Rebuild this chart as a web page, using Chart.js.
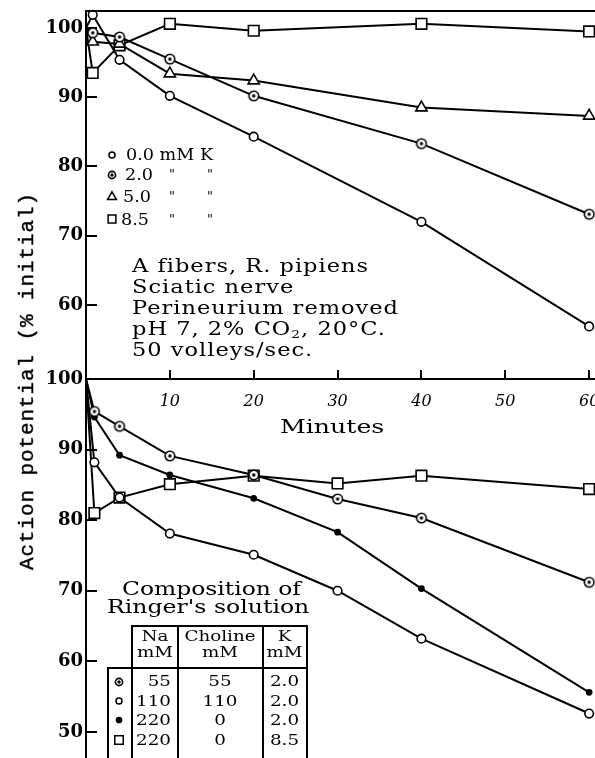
<!DOCTYPE html>
<html>
<head>
<meta charset="utf-8">
<script src="https://cdn.jsdelivr.net/npm/chart.js@4.4.0/dist/chart.umd.min.js"></script>
<style>
  body { margin: 0; background: #fff; }
  #wrap { position: relative; width: 595px; height: 758px; overflow: hidden; background: #fff;
          font-family: "DejaVu Serif", serif; color: #000; }
  #wrap canvas { position: absolute; left: 0; }
  .t { position: absolute; white-space: nowrap; line-height: 20px; transform-origin: 0 50%; }
  .c { position: absolute; white-space: nowrap; text-align: center; transform: scaleX(1.22); }
  .ln { position: absolute; background: #000; }
  sub { font-size: 11px; line-height: 0; vertical-align: -3px; }
</style>
</head>
<body>
<div id="wrap">
  <canvas id="topChart" width="595" height="440" style="top:0"></canvas>
  <canvas id="botChart" width="595" height="388" style="top:370px"></canvas>

  <div class="t" id="ylab" style="left:28px; top:381px; font-family:'Liberation Mono', monospace; font-size:21px;
       letter-spacing:0.9px; -webkit-text-stroke:0.4px #000; transform-origin:50% 50%;
       transform: translate(-50%,-50%) rotate(-90deg);">Action potential (% initial)</div>

  <div class="t" style="left:280px; top:417px; font-size:18px; transform: scaleX(1.4);">Minutes</div>

  <!-- top panel legend -->
  <div class="t" style="left:126px; top:145px; font-size:16px; transform: scaleX(1.1);">0.0 mM K</div>
  <div class="t" style="left:125px; top:165px; font-size:16px; transform: scaleX(1.1);">2.0</div>
  <div class="t" style="left:123px; top:187px; font-size:16px; transform: scaleX(1.1);">5.0</div>
  <div class="t" style="left:121px; top:210px; font-size:16px; transform: scaleX(1.1);">8.5</div>
  <div class="t" style="left:169px; top:165px; font-size:13px;">"</div>
  <div class="t" style="left:207px; top:165px; font-size:13px;">"</div>
  <div class="t" style="left:169px; top:187px; font-size:13px;">"</div>
  <div class="t" style="left:207px; top:187px; font-size:13px;">"</div>
  <div class="t" style="left:169px; top:210px; font-size:13px;">"</div>
  <div class="t" style="left:207px; top:210px; font-size:13px;">"</div>

  <div class="t" style="left:132px; top:255px; font-size:18px; letter-spacing:0.8px; line-height:21px;
       transform-origin: 0 0; transform: scaleX(1.25);">
    A fibers, R. pipiens<br>Sciatic nerve<br>Perineurium removed<br>pH 7, 2% CO<sub>2</sub>, 20°C.<br>50 volleys/sec.
  </div>

  <!-- bottom panel composition table -->
  <div class="t" style="left:122px; top:579px; font-size:18px; transform: scaleX(1.3);">Composition of</div>
  <div class="t" style="left:107px; top:597px; font-size:18px; transform: scaleX(1.31);">Ringer's solution</div>

  <div class="ln" style="left:131px; top:625px; width:177px; height:1.5px;"></div>
  <div class="ln" style="left:107px; top:667px; width:201px; height:1.5px;"></div>
  <div class="ln" style="left:107px; top:667px; width:1.5px; height:100px;"></div>
  <div class="ln" style="left:131px; top:625px; width:1.5px; height:140px;"></div>
  <div class="ln" style="left:177px; top:625px; width:1.5px; height:140px;"></div>
  <div class="ln" style="left:262px; top:625px; width:1.5px; height:140px;"></div>
  <div class="ln" style="left:306px; top:625px; width:1.5px; height:140px;"></div>

  <div class="c" style="left:133px; width:44px; top:628px; font-size:15px; line-height:16px;">Na<br>mM</div>
  <div class="c" style="left:178px; width:84px; top:628px; font-size:15px; line-height:16px;">Choline<br>mM</div>
  <div class="c" style="left:263px; width:43px; top:628px; font-size:15px; line-height:16px;">K<br>mM</div>

  <div class="c" style="left:131px; width:40px; text-align:right; transform-origin:100% 50%; top:672px; font-size:15px; line-height:19.5px;">55<br>110<br>220<br>220</div>
  <div class="c" style="left:178px; width:84px; top:672px; font-size:15px; line-height:19.5px;">55<br>110<br>0<br>0</div>
  <div class="c" style="left:263px; width:43px; top:672px; font-size:15px; line-height:19.5px;">2.0<br>2.0<br>2.0<br>8.5</div>
</div>

<script>
// ---- data ----
// upper panel: K concentration series
const minutesTop = [0, 0.8, 4, 10, 20, 40, 60];
const k00 = [100, 101.9, 95.4, 90.2, 84.3, 72.0, 56.9];
const k20 = [100, 99.3, 98.7, 95.5, 90.2, 83.3, 73.1];
const k50 = [100, 98.0, 97.7, 93.4, 92.4, 88.5, 87.3];
const k85 = [100, 93.5, 97.5, 100.6, 99.6, 100.6, 99.5];

// lower panel: Ringer's composition series
const minutesBot = [0, 1, 4, 10, 20, 30, 40, 60];
const na55 = [100, 95.4, 93.3, 89.1, 86.4, 83.0, 80.3, 71.2];
const na110 = [100, 88.2, 83.2, 78.1, 75.1, 70.0, 63.2, 52.6];
const na220 = [100, 94.6, 89.2, 86.4, 83.1, 78.3, 70.3, 55.6];
const na220k85 = [100, 81.0, 83.2, 85.1, 86.3, 85.2, 86.3, 84.4];

const xTicks = [10, 20, 30, 40, 50, 60];
const yTicksTop = [60, 70, 80, 90, 100];
const yTicksBot = [50, 60, 70, 80, 90, 100];

// circle with a dot in the middle
function ringDot(r) {
  const c = document.createElement('canvas');
  const s = Math.ceil(2 * r + 4);
  c.width = c.height = s;
  const g = c.getContext('2d');
  g.beginPath(); g.arc(s / 2, s / 2, r, 0, Math.PI * 2);
  g.fillStyle = '#fff'; g.fill();
  g.lineWidth = 1.6; g.strokeStyle = '#000'; g.stroke();
  g.beginPath(); g.arc(s / 2, s / 2, 1.7, 0, Math.PI * 2);
  g.fillStyle = '#000'; g.fill();
  return c;
}

const styles = {
  open: { pointStyle: 'circle', pointRadius: 4.3, pointBackgroundColor: '#fff' },
  dot: { pointStyle: ringDot(4.8), pointRadius: 5, pointBackgroundColor: '#fff' },
  tri: { pointStyle: 'triangle', pointRadius: 6.5, pointBackgroundColor: '#fff' },
  sq: { pointStyle: 'rect', pointRadius: 7.5, pointBackgroundColor: '#fff' },
  fill: { pointStyle: 'circle', pointRadius: 2.6, pointBackgroundColor: '#000' }
};

function series(xs, ys, st) {
  const r = st.pointRadius;
  return Object.assign({}, st, {
    data: xs.map((x, i) => ({ x: x, y: ys[i] })),
    borderColor: '#000',
    borderWidth: 2,
    pointBorderColor: '#000',
    pointBorderWidth: 1.6,
    pointRadius: ctx => ctx.dataIndex === 0 ? 0 : r,
    pointHoverRadius: ctx => ctx.dataIndex === 0 ? 0 : r,
    tension: 0,
    clip: false
  });
}

function mark(ctx, st, x, y, r) {
  ctx.save();
  ctx.lineWidth = 1.5;
  ctx.strokeStyle = '#000';
  ctx.fillStyle = st === 'fill' ? '#000' : '#fff';
  if (st === 'dot') {
    const img = ringDot(r);
    ctx.drawImage(img, x - img.width / 2, y - img.height / 2);
  } else {
    const ps = { open: 'circle', tri: 'triangle', sq: 'rect', fill: 'circle' }[st];
    Chart.helpers.drawPoint(ctx, { pointStyle: ps, radius: r, rotation: 0, borderWidth: 1.5 }, x, y);
  }
  ctx.restore();
}

const black = '#000';
const tickFont = { family: 'DejaVu Serif', size: 18, weight: 'bold' };

// keep the plot area exactly where layout padding and afterFit put it
function fixSize(prop, size) {
  return s => {
    s[prop] = size;
    s.paddingTop = 0; s.paddingBottom = 0; s.paddingLeft = 0; s.paddingRight = 0;
  };
}

// y axis with tick marks pointing into the plot (negative tick length)
function yAxis(min, max, values) {
  return {
    min: min, max: max,
    afterBuildTicks: s => { s.ticks = values.map(v => ({ value: v })); },
    afterFit: fixSize('width', 86),
    ticks: { color: black, padding: 14, font: tickFont },
    grid: { drawOnChartArea: false, drawTicks: true, tickLength: -11, color: black, lineWidth: 2 },
    border: { color: black, width: 2 }
  };
}

// top frame line, legend symbols
const topExtras = {
  id: 'topExtras',
  afterDraw(chart) {
    const { ctx, chartArea: a } = chart;
    ctx.save();
    ctx.strokeStyle = black; ctx.lineWidth = 2;
    ctx.beginPath(); ctx.moveTo(a.left, a.top); ctx.lineTo(a.right, a.top); ctx.stroke();
    ctx.restore();
    mark(ctx, 'open', 112, 155, 3);
    mark(ctx, 'dot', 112, 175, 3.6);
    mark(ctx, 'tri', 112, 197, 5.2);
    mark(ctx, 'sq', 112, 219, 5.5);
  }
};

const botExtras = {
  id: 'botExtras',
  afterDraw(chart) {
    const ctx = chart.ctx;
    const off = 370;
    mark(ctx, 'dot', 119, 682 - off, 3.6);
    mark(ctx, 'open', 119, 701 - off, 3);
    mark(ctx, 'fill', 119, 720 - off, 2.6);
    mark(ctx, 'sq', 119, 740 - off, 6);
  }
};

new Chart(document.getElementById('topChart'), {
  type: 'line',
  data: {
    datasets: [
      series(minutesTop, k00, styles.open),
      series(minutesTop, k20, styles.dot),
      series(minutesTop, k50, styles.tri),
      series(minutesTop, k85, styles.sq)
    ]
  },
  options: {
    responsive: false,
    animation: false,
    events: [],
    layout: { autoPadding: false, padding: { top: 11, right: 0, left: 0, bottom: 0 } },
    plugins: { legend: { display: false }, tooltip: { enabled: false } },
    scales: {
      x: {
        type: 'linear', min: 0, max: 60.7,
        afterBuildTicks: s => { s.ticks = xTicks.map(v => ({ value: v })); },
        afterFit: fixSize('height', 61),
        ticks: { color: black, padding: 13, font: { family: 'DejaVu Serif', size: 16, style: 'italic' } },
        grid: { drawOnChartArea: false, drawTicks: false },
        border: { color: black, width: 2 }
      },
      y: yAxis(49.3, 102.45, yTicksTop)
    }
  },
  plugins: [topExtras]
});

new Chart(document.getElementById('botChart'), {
  type: 'line',
  data: {
    datasets: [
      series(minutesBot, na55, styles.dot),
      series(minutesBot, na110, styles.open),
      series(minutesBot, na220, styles.fill),
      series(minutesBot, na220k85, styles.sq)
    ]
  },
  options: {
    responsive: false,
    animation: false,
    events: [],
    layout: { autoPadding: false, padding: 0 },
    plugins: { legend: { display: false }, tooltip: { enabled: false } },
    scales: {
      x: {
        type: 'linear', position: 'top', min: 0, max: 60.7,
        afterBuildTicks: s => { s.ticks = xTicks.map(v => ({ value: v })); },
        afterFit: fixSize('height', 9),
        ticks: { display: false },
        grid: { drawOnChartArea: false, tickLength: 9, color: black, lineWidth: 2 },
        border: { color: black, width: 2 }
      },
      y: yAxis(46.3, 100, yTicksBot)
    }
  },
  plugins: [botExtras]
});
</script>
</body>
</html>
